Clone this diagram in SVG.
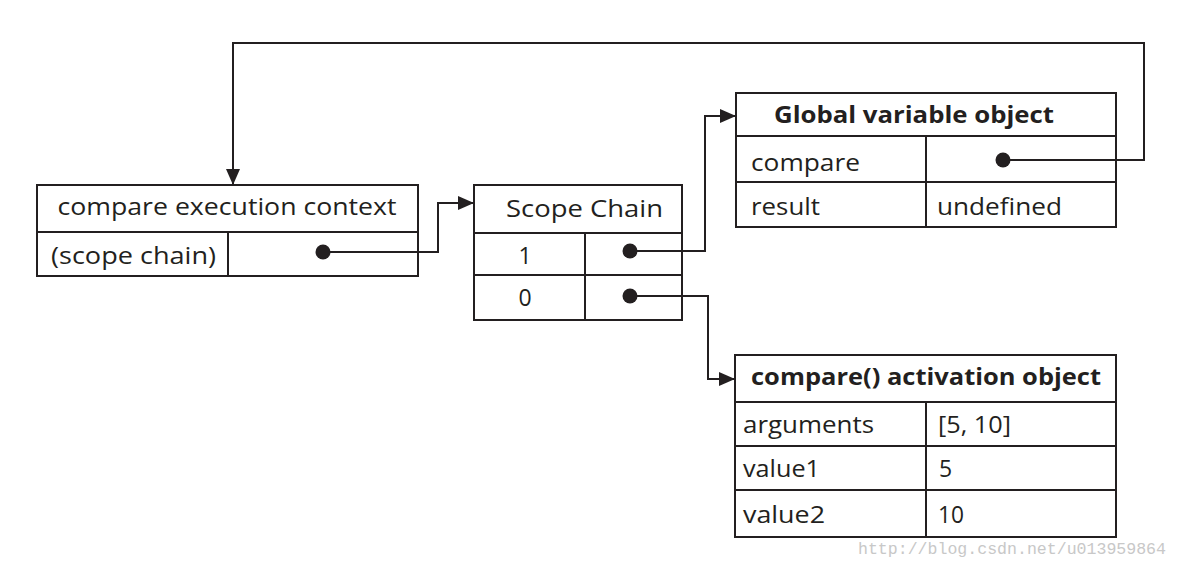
<svg xmlns="http://www.w3.org/2000/svg" width="1178" height="568" viewBox="0 0 1178 568">
<defs>
<marker id="arr" markerWidth="16" markerHeight="14" refX="15" refY="7" orient="auto" markerUnits="userSpaceOnUse"><path d="M0,0 L16,7 L0,14 Z" fill="#231f20"/></marker>
<style>
.box{fill:#fff;stroke:#231f20;stroke-width:2}
.ln{fill:none;stroke:#231f20;stroke-width:2}
.t{font-family:"Open Sans","Liberation Sans",sans-serif;font-size:23px;fill:#231f20}
.b{font-weight:bold}
.dot{fill:#231f20}
.wm{font-family:"Liberation Mono",monospace;font-size:16px;fill:#c8c8c8}
</style>
</defs>
<rect width="1178" height="568" fill="#fff"/>
<g id="exec-context">
<rect class="box" x="37" y="185" width="381" height="91"/>
<path class="ln" d="M37,232 H418 M228,232 V276"/>
<text class="t" x="227" y="215" text-anchor="middle" textLength="339" lengthAdjust="spacingAndGlyphs">compare execution context</text>
<text class="t" x="51" y="264" textLength="165" lengthAdjust="spacingAndGlyphs">(scope chain)</text>
<circle class="dot" cx="323" cy="252" r="7.5"/>
</g>
<g id="scope-chain">
<rect class="box" x="474" y="185" width="208" height="135"/>
<path class="ln" d="M474,233 H682 M474,275 H682 M585,233 V320"/>
<text class="t" x="506" y="217" textLength="157" lengthAdjust="spacingAndGlyphs">Scope Chain</text>
<text class="t" x="525" y="264" text-anchor="middle">1</text>
<text class="t" x="525" y="306" text-anchor="middle">0</text>
<circle class="dot" cx="630" cy="251" r="7.5"/>
<circle class="dot" cx="630" cy="296" r="7.5"/>
</g>
<g id="global-object">
<rect class="box" x="736" y="93" width="380" height="134"/>
<path class="ln" d="M736,136 H1116 M736,182 H1116 M926,136 V227"/>
<text class="t b" x="774" y="123" textLength="280" lengthAdjust="spacingAndGlyphs">Global variable object</text>
<text class="t" x="751" y="171" textLength="109" lengthAdjust="spacingAndGlyphs">compare</text>
<text class="t" x="751" y="215" textLength="69" lengthAdjust="spacingAndGlyphs">result</text>
<text class="t" x="937" y="215" textLength="125" lengthAdjust="spacingAndGlyphs">undefined</text>
<circle class="dot" cx="1003" cy="160" r="7.5"/>
</g>
<g id="activation-object">
<rect class="box" x="735" y="355" width="381" height="182"/>
<path class="ln" d="M735,402 H1116 M735,446 H1116 M735,490 H1116 M926,402 V537"/>
<text class="t b" x="751" y="385" textLength="350" lengthAdjust="spacingAndGlyphs">compare() activation object</text>
<text class="t" x="743" y="433" textLength="131" lengthAdjust="spacingAndGlyphs">arguments</text>
<text class="t" x="938" y="433" textLength="73" lengthAdjust="spacingAndGlyphs">[5, 10]</text>
<text class="t" x="743" y="477" textLength="77" lengthAdjust="spacingAndGlyphs">value1</text>
<text class="t" x="939" y="477">5</text>
<text class="t" x="743" y="523" textLength="82" lengthAdjust="spacingAndGlyphs">value2</text>
<text class="t" x="938" y="523" textLength="26" lengthAdjust="spacingAndGlyphs">10</text>
</g>
<g id="connectors">
<path class="ln" d="M323,252 H438 V203 H473" marker-end="url(#arr)"/>
<path class="ln" d="M630,251 H705 V116 H735" marker-end="url(#arr)"/>
<path class="ln" d="M630,296 H708 V379 H734" marker-end="url(#arr)"/>
<path class="ln" d="M1003,160 H1144 V43 H233 V184" marker-end="url(#arr)"/>
</g>
<text class="wm" x="858" y="554" textLength="308" lengthAdjust="spacingAndGlyphs">http://blog.csdn.net/u013959864</text>
</svg>
